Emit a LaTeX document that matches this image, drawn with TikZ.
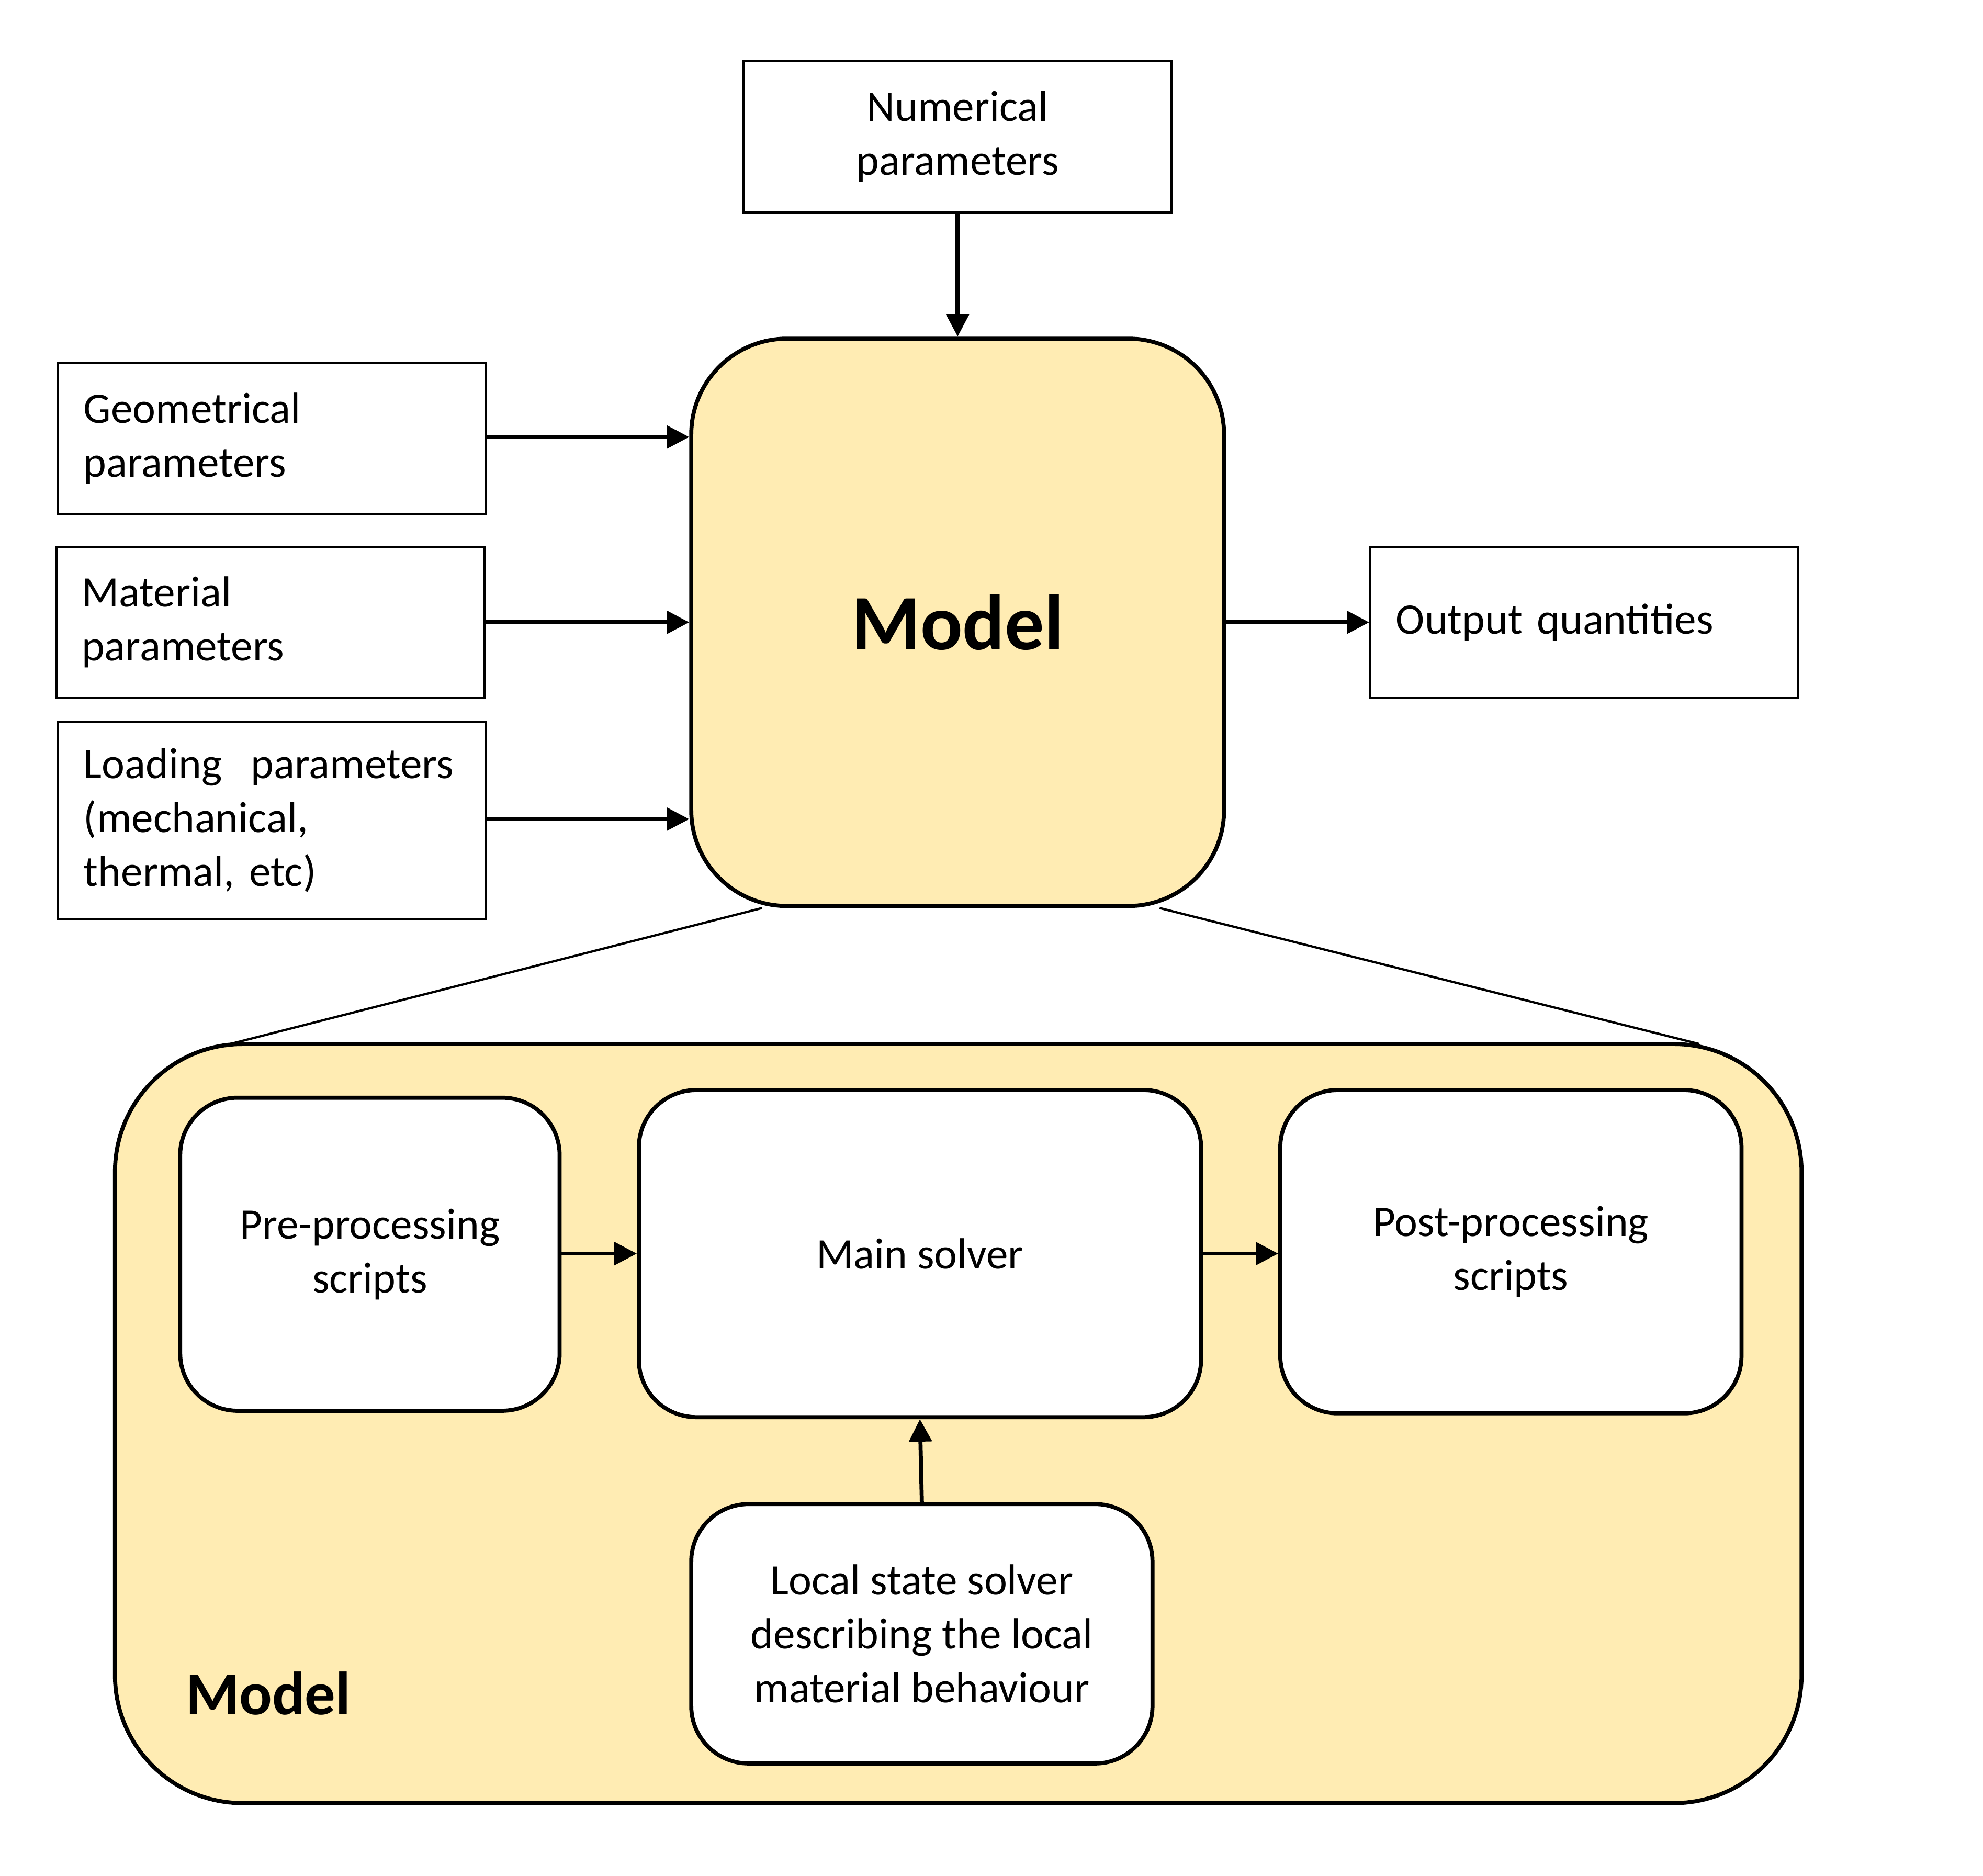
\documentclass[tikz,border=0pt]{standalone}
\usepackage{fontspec}
\setmainfont{Carlito}
\usetikzlibrary{positioning, arrows.meta, calc}
\definecolor{modelYellow}{RGB}{255, 236, 179}

\tikzset{
    param/.style={draw, line width=0.5pt, inner sep=0pt, font=\fontsize{9.7}{12}\selectfont},
    leftparam/.style={param, text width=2.95cm, align=left, inner xsep=0.2cm},
    block/.style={draw, line width=0.9pt, rounded corners=0.45cm, fill=white, align=center,
        inner sep=0pt, font=\fontsize{9.7}{12}\selectfont},
    flow/.style={-{Triangle[length=5pt, width=5pt]}, line width=0.9pt}
}

\begin{document}
\begin{tikzpicture}[x=1cm, y=1cm]
    \useasboundingbox (0,0) rectangle (15.52,14.68);

    % outer model block
    \node[draw, line width=0.9pt, fill=modelYellow, rounded corners=1cm,
        minimum width=13.2cm, minimum height=5.94cm] (outer) at (7.5,3.54) {};
    \node[font=\fontsize{13.6}{16}\selectfont\bfseries] (outerlabel) at (2.1,1.43) {Model};

    % top model
    \node[draw, line width=0.9pt, fill=modelYellow, rounded corners=0.75cm,
        minimum width=4.17cm, minimum height=4.44cm,
        font=\fontsize{17.5}{20}\selectfont\bfseries] (model) at (7.495,9.81) {Model};

    % inputs
    \node[param, minimum width=3.35cm, minimum height=1.18cm, align=center] (num) at (7.495,13.61)
        {Numerical\\parameters};
    \node[leftparam, minimum height=1.18cm] (geo) at (2.13,11.25)
        {Geometrical\\parameters};
    \node[leftparam, minimum height=1.18cm] (mat) at (2.115,9.81)
        {Material\\parameters};
    \node[leftparam, minimum height=1.54cm] (load) at (2.13,8.26)
        {\mbox{Loading\ \ parameters}\\(mechanical,\\thermal, etc)};
    \node[leftparam, minimum height=1.18cm] (out) at (12.4,9.81)
        {Output quantities};

    \draw[flow] (num) -- (model);
    \draw[flow] (geo.east |- 0,11.26) -- (model.west |- 0,11.26);
    \draw[flow] (mat) -- (model.west |- mat);
    \draw[flow] (load.east |- 0,8.27) -- (model.west |- 0,8.27);
    \draw[flow] (model.east |- out) -- (out);

    % zoom lines
    \coordinate (zl) at (1.8,6.51);
    \coordinate (zr) at (13.3,6.51);
    \draw[line width=0.5pt] ($(model.south west)+(0.57,0)$) -- (zl);
    \draw[line width=0.5pt] ($(model.south east)+(-0.52,0)$) -- (zr);

    % inner blocks
    \node[block, minimum width=2.97cm, minimum height=2.45cm] (pre) at (2.895,4.865)
        {Pre-processing\\scripts};
    \node[block, minimum width=4.4cm, minimum height=2.56cm] (main) at (7.2,4.87)
        {Main solver};
    \node[block, minimum width=3.61cm, minimum height=2.53cm] (post) at (11.825,4.885)
        {Post-processing\\scripts};
    \node[block, minimum width=3.61cm, minimum height=2.03cm] (local) at (7.215,1.895)
        {Local state solver\\describing the local\\material behaviour};

    \draw[flow] (pre.east |- 0,4.87) -- (main.west |- 0,4.87);
    \draw[flow] (main.east |- 0,4.87) -- (post.west |- 0,4.87);
    \draw[flow] (local.north) -- (main.south);
\end{tikzpicture}
\end{document}
